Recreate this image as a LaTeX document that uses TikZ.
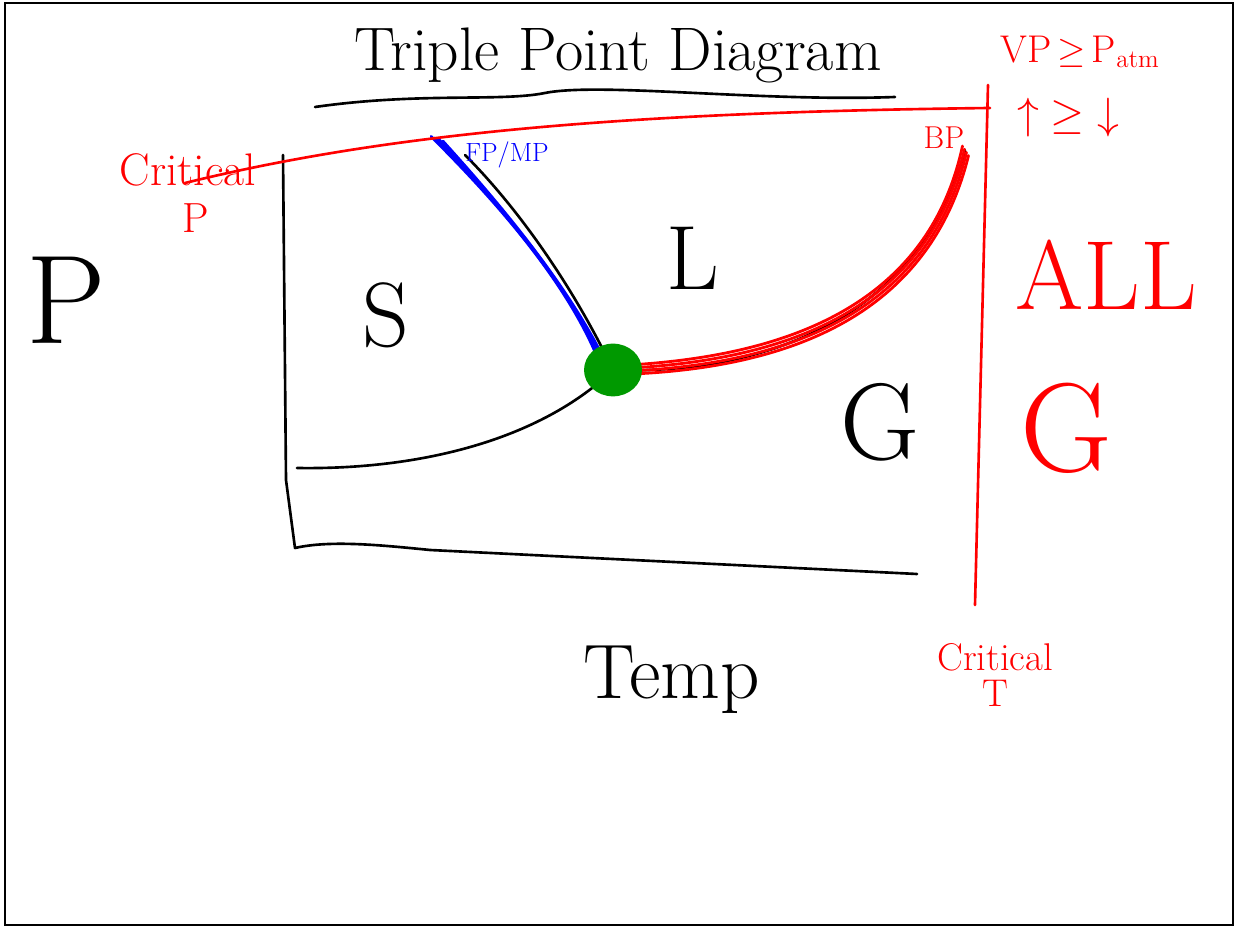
\documentclass[tikz,border=0pt]{standalone}
\usepackage{tikz}
\usetikzlibrary{positioning,calc}
\newcommand{\hw}[1]{\fontsize{#1}{#1}\selectfont}
\tikzset{
  ink/.style={line width=1.5pt,line cap=round,line join=round},
  axisline/.style={ink,black},
  phaseline/.style={ink,black},
  fusline/.style={ink,blue,line width=1.6pt},
  boilline/.style={ink,red,line width=1.6pt},
  critline/.style={ink,red},
  lbl/.style={inner sep=0pt,text=black},
  redlbl/.style={inner sep=0pt,text=red,align=center},
  bluelbl/.style={inner sep=0pt,text=blue},
}

\begin{document}
\begin{tikzpicture}[x=0.02cm,y=-0.02cm]
  % page and frame
  \fill[white] (0,0) rectangle (1238,928);
  \useasboundingbox (0,0) rectangle (1238,928);
  \draw[line width=1pt] (5,3) rectangle (1233,925);

  % title
  \node[lbl,font=\hw{35}] (title) at (618,55) {Triple Point Diagram};
  \coordinate (ul1) at (315,107);
  \coordinate (ul2) at (895,97);
  \draw[ink] (ul1) .. controls (420,92) and (500,102) .. (545,93)
    .. controls (600,82) and (760,102) .. (ul2);

  % axes
  \coordinate (ytop) at (283,155);
  \coordinate (orig) at (295,548);
  \coordinate (xend) at (917,574);
  \draw[axisline] (ytop) -- (286,480) -- (orig) .. controls (330,540) and (380,545) .. (430,550) -- (xend);
  \node[lbl,font=\hw{72}] (pres) at (66,300) {P};
  \node[lbl,font=\hw{44}] (temp) at (672,680) {Temp};

  % phase boundaries
  \coordinate (tp) at (613,370);
  \coordinate (sub) at (297,468);
  \coordinate (fus) at (465,155);
  \coordinate (boil) at (965,150);
  \draw[phaseline] (sub) .. controls (420,470) and (540,440) .. (tp);
  \draw[phaseline] (fus) .. controls (520,210) and (575,290) .. (tp);
  \foreach \d in {-9,-5,-1,3}
    \draw[fusline] ($(440,140)+(\d,\d*0.4)$) .. controls (510,215) and (570,290) .. ($(tp)+(-10+\d*0.5,-10)$);
  \draw[phaseline] (tp) .. controls (760,375) and (920,320) .. (boil);
  \foreach \d in {-5,-1,3,7}
    \draw[boilline] ($(tp)+(-22,\d*0.7)$) .. controls (760,368+\d) and (925,325+\d) .. ($(boil)+(\d*0.5,\d*0.8)$);
  \node[circle,fill=green!60!black,minimum width=30pt,minimum height=24pt,inner sep=0pt,xscale=1.1] (tpdot) at (tp) {};

  % phase labels
  \node[lbl,font=\hw{52}] (solid) at (386,315) {S};
  \node[lbl,font=\hw{52}] (liq) at (693,258) {L};
  \node[lbl,font=\hw{62}] (gas) at (880,422) {G};

  % critical point lines
  \coordinate (cpl) at (185,183);
  \coordinate (cpr) at (990,108);
  \draw[critline] (cpl) .. controls (400,130) and (650,112) .. (cpr);
  \coordinate (ctt) at (988,85);
  \coordinate (ctb) at (975,605);
  \draw[critline] (ctt) -- (ctb);
  \node[redlbl,font=\hw{26}] (critp) at (188,170) {Critical};
  \node[redlbl,font=\hw{24}] (critpp) at (196,218) {P};
  \node[redlbl,font=\hw{22}] (critt) at (995,675) {Critical\\[-2pt]T};
  \node[bluelbl,font=\hw{15}] (fpmp) at (507,155) {FP/MP};
  \node[redlbl,font=\hw{18}] (bp) at (944,138) {BP};

  % right column notes
  \node[redlbl,font=\hw{22}] (vp) at (1080,52) {VP$\,\geq\,$P$_{\mathrm{atm}}$};
  \node[redlbl,font=\hw{30}] (arr) at (1068,118) {$\uparrow\;\geq\;\downarrow$};
  \node[redlbl,font=\hw{56}] (all) at (1106,275) {ALL};
  \node[redlbl,font=\hw{72}] (allg) at (1066,428) {G};
\end{tikzpicture}
\end{document}
